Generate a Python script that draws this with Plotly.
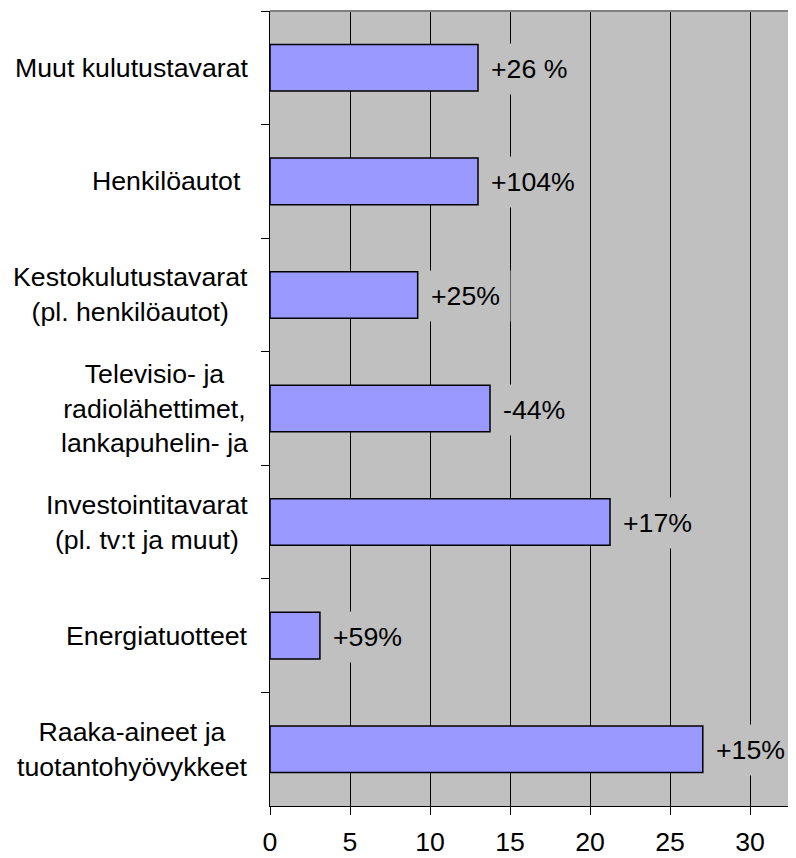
import plotly.graph_objects as go

categories = [
    "Muut kulutustavarat",
    "Henkilöautot ",
    "Kestokulutustavarat<br>(pl. henkilöautot)",
    "Televisio- ja<br>radiolähettimet,<br>lankapuhelin- ja",
    "Investointitavarat<br>(pl. tv:t ja muut)",
    "Energiatuotteet",
    "Raaka-aineet ja<br>tuotantohyövykkeet",
]
values = [13.0, 13.0, 9.23, 13.75, 21.25, 3.12, 27.05]
changes = ["+26 %", "+104%", "+25%", "-44%", "+17%", "+59%", "+15%"]
x_ticks = [0, 5, 10, 15, 20, 25, 30]

FONT = "Liberation Sans, Arial, sans-serif"
FS = 26.7
ids = [f"c{i}" for i in range(len(categories))]

fig = go.Figure()
fig.add_trace(go.Bar(
    x=values,
    y=ids,
    orientation="h",
    width=0.41,
    marker=dict(color="#9999FF", line=dict(color="#000000", width=1.5)),
    hoverinfo="skip",
))

annotations = []
for cid, lab in zip(ids, categories):
    annotations.append(dict(
        x=0, xref="paper", y=cid, yref="y",
        text=lab, showarrow=False, xanchor="right", align="center",
        xshift=-20, font=dict(family=FONT, size=FS, color="#000000"),
    ))
for cid, v, ch in zip(ids, values, changes):
    annotations.append(dict(
        x=v, xref="x", y=cid, yref="y",
        text=ch, showarrow=False, xanchor="left", align="left",
        xshift=2, yshift=-1, bgcolor="#C0C0C0", borderpad=10,
        font=dict(family=FONT, size=FS, color="#000000"),
    ))

fig.update_layout(
    width=788, height=850,
    margin=dict(l=262, r=0, t=3, b=52, autoexpand=False),
    paper_bgcolor="#FFFFFF",
    plot_bgcolor="#C0C0C0",
    showlegend=False,
    annotations=annotations,
    shapes=[dict(type="line", xref="paper", yref="paper", x0=0, x1=1, y0=1, y1=1,
                 line=dict(color="#808080", width=2))],
    xaxis=dict(
        range=[0, 32.875], tickvals=x_ticks, ticktext=[str(t) for t in x_ticks],
        showgrid=True, gridcolor="#000000", gridwidth=1,
        showline=True, linecolor="#000000", linewidth=1,
        ticks="outside", ticklen=8, tickcolor="#000000",
        ticklabelstandoff=4, automargin=False,
        tickfont=dict(family=FONT, size=FS, color="#000000"),
        zeroline=False, fixedrange=True,
    ),
    yaxis=dict(
        categoryorder="array", categoryarray=ids, autorange="reversed",
        showticklabels=False, showgrid=False, zeroline=False,
        showline=True, linecolor="#000000", linewidth=1,
        ticks="outside", ticklen=8, tickcolor="#000000", tickson="boundaries",
        automargin=False, fixedrange=True,
    ),
)

fig.write_html("out.html")
